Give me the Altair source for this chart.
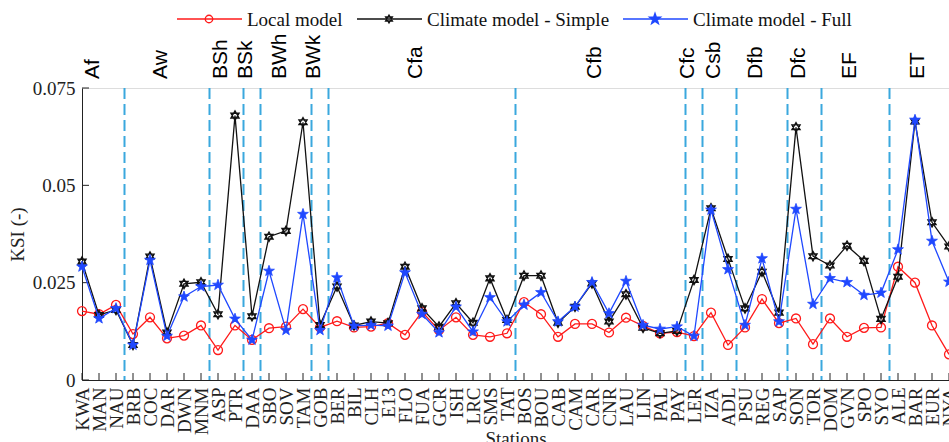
import math
import altair as alt
import pandas as pd

# ---------------- data ----------------
stations = ["KWA", "MAN", "NAU", "BRB", "COC", "DAR", "DWN", "MNM", "ASP", "PTR",
            "DAA", "SBO", "SOV", "TAM", "GOB", "BER", "BIL", "CLH", "E13", "FLO",
            "FUA", "GCR", "ISH", "LRC", "SMS", "TAT", "BOS", "BOU", "CAB", "CAM",
            "CAR", "CNR", "LAU", "LIN", "PAL", "PAY", "LER", "IZA", "ADL", "PSU",
            "REG", "SAP", "SON", "TOR", "DOM", "GVN", "SPO", "SYO", "ALE", "BAR",
            "EUR", "NYA"]

local_model = [0.0177, 0.0169, 0.0193, 0.0118, 0.0161, 0.0107, 0.0114, 0.0140, 0.0077, 0.0140,
               0.0103, 0.0133, 0.0137, 0.0182, 0.0135, 0.0151, 0.0135, 0.0137, 0.0146, 0.0116,
               0.0175, 0.0128, 0.0161, 0.0116, 0.0111, 0.0120, 0.0200, 0.0169, 0.0111, 0.0144,
               0.0144, 0.0122, 0.0160, 0.0139, 0.0120, 0.0123, 0.0113, 0.0173, 0.0090, 0.0135,
               0.0208, 0.0146, 0.0158, 0.0092, 0.0158, 0.0111, 0.0134, 0.0135, 0.0291, 0.0250,
               0.0140, 0.0066]

climate_simple = [0.0304, 0.0167, 0.0180, 0.0090, 0.0317, 0.0122, 0.0247, 0.0251, 0.0169, 0.0679,
                  0.0164, 0.0368, 0.0383, 0.0662, 0.0141, 0.0240, 0.0140, 0.0150, 0.0146, 0.0291,
                  0.0184, 0.0137, 0.0197, 0.0147, 0.0261, 0.0154, 0.0268, 0.0268, 0.0147, 0.0188,
                  0.0248, 0.0150, 0.0220, 0.0134, 0.0120, 0.0126, 0.0257, 0.0441, 0.0311, 0.0184,
                  0.0278, 0.0173, 0.0649, 0.0318, 0.0294, 0.0345, 0.0306, 0.0157, 0.0265, 0.0664,
                  0.0405, 0.0343]

climate_full = [0.0291, 0.0158, 0.0184, 0.0090, 0.0308, 0.0113, 0.0214, 0.0240, 0.0244, 0.0157,
                0.0103, 0.0280, 0.0128, 0.0426, 0.0128, 0.0263, 0.0139, 0.0141, 0.0139, 0.0276,
                0.0169, 0.0122, 0.0188, 0.0124, 0.0212, 0.0150, 0.0193, 0.0225, 0.0150, 0.0188,
                0.0251, 0.0171, 0.0254, 0.0141, 0.0131, 0.0137, 0.0113, 0.0437, 0.0284, 0.0141,
                0.0312, 0.0150, 0.0439, 0.0195, 0.0261, 0.0251, 0.0218, 0.0224, 0.0335, 0.0668,
                0.0357, 0.0252]

series_names = ["Local model", "Climate model - Simple", "Climate model - Full"]

group_names = ["Af", "Aw", "BSh", "BSk", "BWh", "BWk", "Cfa", "Cfb", "Cfc", "Csb",
               "Dfb", "Dfc", "EF", "ET"]
group_sizes = [3, 5, 2, 1, 3, 1, 11, 10, 1, 2, 3, 2, 4, 4]

y_ticks = [0, 0.025, 0.05, 0.075]

# ---------------- styling ----------------
W, H = 867, 292
SERIF = "Liberation Serif"
SANS = "Liberation Sans"
AX = "#222222"
RED, BLACK, BLUE = "#ff1a1a", "#111111", "#1f48ff"
DASH_BLUE = "#3aa8de"


def star_path(points, r_out, r_in, rot=-90):
    pts = []
    for k in range(points * 2):
        r = r_out if k % 2 == 0 else r_in
        a = math.radians(rot + k * 180 / points)
        pts.append(f"{r * math.cos(a):.3f},{r * math.sin(a):.3f}")
    return "M" + "L".join(pts) + "Z"


PENTAGRAM = star_path(5, 1.0, 0.40)
HEXAGRAM = "M0,-1L0.866,0.5L-0.866,0.5Z M0,1L0.866,-0.5L-0.866,-0.5Z"

n = len(stations)
rows = []
for name, vals in zip(series_names, [local_model, climate_simple, climate_full]):
    for i, v in enumerate(vals):
        rows.append({"idx": i, "station": stations[i], "value": v, "series": name})
df = pd.DataFrame(rows)

label_array = "[" + ",".join(f"'{s}'" for s in stations) + "]"

x_axis = alt.Axis(values=list(range(n)), labelExpr=f"{label_array}[datum.value]",
                  labelAngle=270, labelFont=SERIF, labelFontSize=19, labelColor=AX,
                  labelPadding=7, labelOverlap=False, labelFlush=False, ticks=False,
                  grid=False, domainColor=AX, domainWidth=1,
                  titleFont=SERIF, titleFontSize=19, titleFontWeight="normal",
                  titleColor=AX, titleBaseline="top", titleY=49)
y_axis = alt.Axis(values=y_ticks, labelExpr="format(datum.value, '.3~f')",
                  labelFont=SERIF, labelFontSize=19,
                  labelColor=AX, labelPadding=7, ticks=False, grid=False,
                  domainColor=AX, domainWidth=1, titleFont=SERIF, titleFontSize=19,
                  titleFontWeight="normal", titleColor=AX, titlePadding=5)

x_scale = alt.Scale(domain=[0, n - 1], nice=False, zero=False)
y_scale = alt.Scale(domain=[0, 0.075], nice=False, zero=True)


def X(field):
    return alt.X(f"{field}:Q", scale=x_scale, axis=x_axis, title="Stations")


def Y(field):
    return alt.Y(f"{field}:Q", scale=y_scale, axis=y_axis, title="KSI (-)")


base = alt.Chart(df)

styles = {
    "Local model": dict(color=RED, shape="circle", size=80, filled=False),
    "Climate model - Simple": dict(color=BLACK, shape=HEXAGRAM, size=90, filled=False),
    "Climate model - Full": dict(color=BLUE, shape=PENTAGRAM, size=130, filled=True),
}

layers = []

# boundaries between climate groups
bounds = []
acc = 0
for s in group_sizes[:-1]:
    acc += s
    bounds.append(acc - 0.5)
bdf = pd.DataFrame({"bx": bounds})
layers.append(
    alt.Chart(bdf).mark_rule(color=DASH_BLUE, strokeWidth=2, strokeDash=[11, 5]).encode(
        x=X("bx"), y=alt.value(0), y2=alt.value(H))
)

# inward ticks
layers.append(
    alt.Chart(pd.DataFrame({"tx": list(range(n))})).mark_rule(color=AX, strokeWidth=1).encode(
        x=X("tx"), y=alt.value(H), y2=alt.value(H - 7))
)
layers.append(
    alt.Chart(pd.DataFrame({"ty": y_ticks})).mark_rule(color=AX, strokeWidth=1).encode(
        y=Y("ty"), x=alt.value(0), x2=alt.value(7))
)

# series
for name in series_names:
    st = styles[name]
    sub = base.transform_filter(alt.datum.series == name)
    layers.append(sub.mark_line(color=st["color"], strokeWidth=1.3).encode(
        x=X("idx"), y=Y("value"), order="idx:Q"))
    if st["filled"]:
        pt = sub.mark_point(shape=st["shape"], size=st["size"], filled=True,
                            fill=st["color"], stroke=st["color"], strokeWidth=0.8, opacity=1)
    else:
        pt = sub.mark_point(shape=st["shape"], size=st["size"], filled=False,
                            stroke=st["color"], strokeWidth=1.3, opacity=1)
    layers.append(pt.encode(x=X("idx"), y=Y("value")))

# climate group labels
starts = []
acc = 0
for s in group_sizes:
    starts.append(acc + (s - 1) / 2)
    acc += s
gdf = pd.DataFrame({"gx": starts, "gname": group_names})
layers.append(
    alt.Chart(gdf).mark_text(angle=270, align="left", baseline="alphabetic", font=SANS,
                             fontSize=21, color="#000000").encode(
        x=X("gx"), y=alt.value(-9), text="gname:N")
)

# legend (manual, MATLAB-like)
one = pd.DataFrame({"a": [0]})
leg_x = [95, 275, 541]
for name, lx in zip(series_names, leg_x):
    st = styles[name]
    layers.append(alt.Chart(one).mark_rule(color=st["color"], strokeWidth=1.3).encode(
        x=alt.value(lx), x2=alt.value(lx + 65), y=alt.value(-69)))
    if st["filled"]:
        lp = alt.Chart(one).mark_point(shape=st["shape"], size=st["size"] * 0.7, filled=True,
                                       fill=st["color"], stroke=st["color"], opacity=1)
    else:
        lp = alt.Chart(one).mark_point(shape=st["shape"], size=st["size"] * 0.7, filled=False,
                                       stroke=st["color"], strokeWidth=1.3, opacity=1)
    layers.append(lp.encode(x=alt.value(lx + 32), y=alt.value(-69)))
    layers.append(alt.Chart(one).mark_text(text=name, align="left", baseline="alphabetic",
                                           font=SERIF, fontSize=19, color="#111111").encode(
        x=alt.value(lx + 70), y=alt.value(-62)))

chart = alt.layer(*layers).properties(
    width=W, height=H,
    padding={"left": 82, "top": 88, "right": 0, "bottom": 62},
    autosize=alt.AutoSizeParams(type="none"),
).configure_view(stroke=None).configure(background="white")

chart.save("out.html", embed_options={"renderer": "svg", "actions": False})
